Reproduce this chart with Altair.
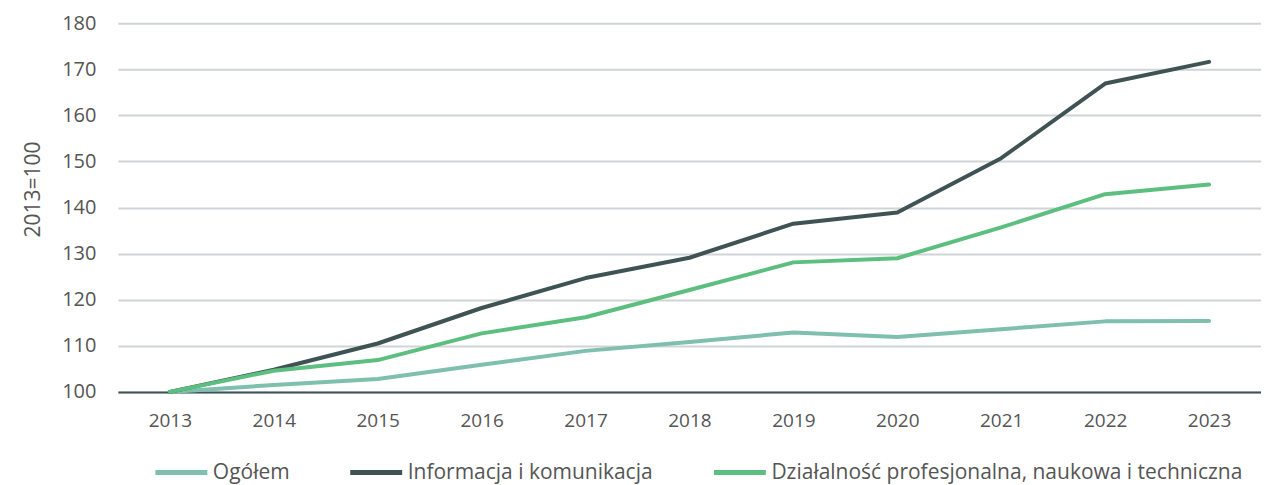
import altair as alt
import pandas as pd

years = [2013, 2014, 2015, 2016, 2017, 2018, 2019, 2020, 2021, 2022, 2023]
series_names = ["Ogółem", "Informacja i komunikacja", "Działalność profesjonalna, naukowa i techniczna"]
ogolem = [100, 101.5, 102.8, 105.9, 108.9, 110.8, 112.9, 111.9, 113.6, 115.3, 115.4]
informacja = [100, 104.8, 110.5, 118.2, 124.7, 129.1, 136.5, 138.9, 150.7, 166.9, 171.6]
dzialalnosc = [100, 104.6, 106.9, 112.7, 116.2, 122.1, 128.1, 129.0, 135.7, 142.9, 145.0]
colors = ["#7fbfad", "#3f5254", "#5dbf7f"]
y_ticks = [100, 110, 120, 130, 140, 150, 160, 170, 180]

rows = []
for name, vals in zip(series_names, [ogolem, informacja, dzialalnosc]):
    for yr, v in zip(years, vals):
        rows.append({"rok": str(yr), "seria": name, "wartosc": v})
df = pd.DataFrame(rows)

FONT = "Open Sans"
TXT = "#555555"
FS = 19

chart = alt.Chart(df).mark_line(strokeWidth=4, strokeCap="round", strokeJoin="round").encode(
    x=alt.X("rok:O", scale=alt.Scale(type="point", padding=0.5),
            axis=alt.Axis(title=None, labelAngle=0, ticks=False, domain=True,
                          domainColor="#3f5254", domainWidth=2, grid=False,
                          labelPadding=20, labelFontSize=FS, labelColor=TXT, labelFont=FONT)),
    y=alt.Y("wartosc:Q", scale=alt.Scale(domain=[100, 180], nice=False, zero=False),
            axis=alt.Axis(title="2013=100", values=y_ticks, ticks=False, domain=False,
                          grid=True, gridColor="#d0d4d7", gridWidth=2,
                          labelPadding=22, labelFontSize=20, labelColor=TXT, labelFont=FONT,
                          titleFontSize=21, titleColor=TXT, titleFont=FONT, titleFontWeight="normal",
                          titleX=-84, titleY=166, titleAngle=-90, titleAlign="center",
                          titleBaseline="middle")),
    color=alt.Color("seria:N", sort=series_names,
                    scale=alt.Scale(domain=series_names, range=colors),
                    legend=alt.Legend(title=None, orient="none", legendX=35, legendY=421,
                                      direction="horizontal", symbolType="stroke",
                                      symbolSize=2700, symbolStrokeWidth=5,
                                      labelFontSize=21, labelColor=TXT, labelFont=FONT,
                                      columnPadding=50, labelOffset=3, labelLimit=700)),
    order=alt.Order("seria:N"),
).properties(
    width=1144, height=369,
    autosize=alt.AutoSizeParams(type="none"),
    padding={"left": 110, "top": 15, "right": 0, "bottom": 95},
).configure_view(stroke=None)

chart.save("out.html", embed_options={"renderer": "svg", "actions": False})
